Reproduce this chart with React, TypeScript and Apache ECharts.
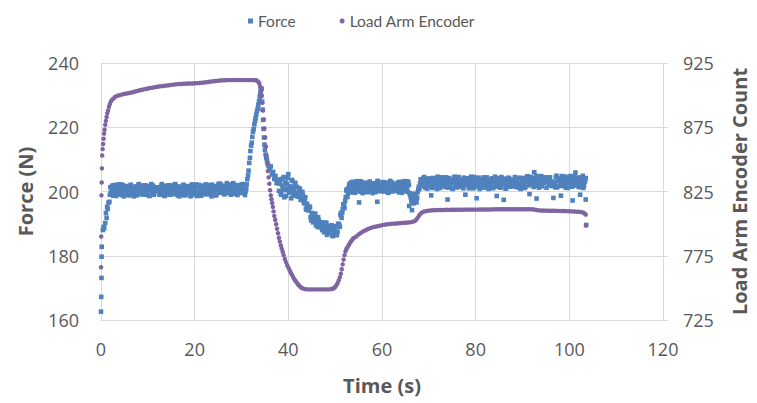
import React, { useEffect, useRef } from "react";
import * as echarts from "echarts";

// ---- Data ----
const seriesNames = ["Force", "Load Arm Encoder"];

const xTicks = [0, 20, 40, 60, 80, 100, 120];
const forceTicks = [160, 180, 200, 220, 240];
const encoderTicks = [725, 775, 825, 875, 925];

// Force (N) vs time (s) — main samples
const forceData: [number, number][] = [
  [0, 162.6], [0.05, 167.2], [0.1, 173.1], [0.12, 179.7], [0.15, 182.8], [0.4, 188.0], [0.55, 189.0], [0.7, 188.6],
  [0.9, 190.2], [1.05, 193.3], [1.2, 191.8], [1.3, 195.2], [1.45, 194.6], [1.6, 196.5], [1.8, 196.8], [1.9, 199.0],
  [2, 201.3], [2.25, 199.2], [2.5, 200.7], [2.75, 202.0], [3, 199.7], [3.25, 198.6], [3.5, 201.5], [3.75, 200.6],
  [4, 200.0], [4.25, 202.2], [4.5, 198.9], [4.75, 201.0], [5, 200.3], [5.25, 201.7], [5.5, 199.4], [5.75, 200.9],
  [6, 198.8], [6.25, 201.8], [6.5, 200.1], [6.75, 201.2], [7, 198.5], [7.25, 200.4], [7.5, 201.6], [7.75, 199.6],
  [8, 202.1], [8.25, 199.9], [8.5, 200.8], [8.75, 199.1], [9, 201.4], [9.25, 200.2], [9.5, 201.9], [9.75, 199.3],
  [10, 201.1], [10.25, 198.7], [10.5, 200.5], [10.75, 202.3], [11, 199.8], [11.25, 199.0], [11.5, 201.3], [11.75, 200.7],
  [12, 200.7], [12.25, 201.3], [12.5, 199.0], [12.75, 199.8], [13, 202.3], [13.25, 200.5], [13.5, 198.7], [13.75, 201.1],
  [14, 199.3], [14.25, 201.9], [14.5, 200.2], [14.75, 201.4], [15, 199.1], [15.25, 200.8], [15.5, 199.9], [15.75, 202.1],
  [16, 199.6], [16.25, 201.6], [16.5, 200.4], [16.75, 198.5], [17, 201.2], [17.25, 200.1], [17.5, 201.8], [17.75, 198.8],
  [18, 200.9], [18.25, 199.4], [18.5, 201.7], [18.75, 200.3], [19, 201.0], [19.25, 198.9], [19.5, 202.2], [19.75, 200.0],
  [20, 200.6], [20.25, 201.5], [20.5, 198.6], [20.75, 199.7], [21, 202.0], [21.25, 200.7], [21.5, 199.2], [21.75, 201.3],
  [22, 199.2], [22.25, 201.3], [22.5, 200.6], [22.75, 202.0], [23, 199.7], [23.25, 201.2], [23.5, 199.1], [23.75, 202.1],
  [24, 200.4], [24.25, 201.5], [24.5, 198.8], [24.75, 200.7], [25, 201.9], [25.25, 199.9], [25.5, 202.4], [25.75, 200.2],
  [26, 201.1], [26.25, 199.4], [26.5, 201.7], [26.75, 200.5], [27, 202.2], [27.25, 199.6], [27.5, 201.4], [27.75, 199.0],
  [28, 200.8], [28.25, 202.6], [28.5, 200.1], [28.75, 199.3], [29, 201.6], [29.25, 201.0], [29.5, 201.6], [29.75, 199.5],
  [30, 201.0], [30.25, 202.3], [30.5, 200.0], [30.75, 198.9],
  [31, 200.9], [31.1, 202.2], [31.25, 203.8], [31.4, 205.0], [31.5, 206.5], [31.65, 208.9], [31.8, 210.5], [31.9, 212.6],
  [32.05, 214.3], [32.2, 215.2], [32.3, 217.0], [32.45, 218.6], [32.6, 219.4], [32.75, 220.9], [32.9, 222.0], [33.0, 222.8],
  [33.15, 223.9], [33.3, 225.0], [33.45, 225.8], [33.6, 227.0], [33.75, 228.1], [33.9, 229.5], [34.0, 230.4], [34.1, 231.5],
  [34.2, 229.8], [34.3, 232.0], [34.4, 228.0], [34.5, 225.5], [34.6, 222.3], [34.7, 219.5], [34.8, 216.8], [34.9, 214.6],
  [35.0, 213.0], [35.15, 211.5], [35.3, 210.4], [35.45, 209.8], [35.6, 208.6], [35.75, 208.0], [36.0, 206.9], [36.25, 207.8],
  [36.5, 205.3], [36.75, 206.1], [37.0, 203.9], [37.25, 204.8], [37.5, 202.6], [37.75, 203.7],
  [38, 200.2], [38.25, 203.1], [38.5, 199.0], [38.75, 201.8], [39, 204.5], [39.25, 200.4], [39.5, 198.6], [39.75, 202.3],
  [40, 205.4], [40.25, 199.7], [40.5, 201.2], [40.75, 203.6], [41, 198.9], [41.25, 200.8], [41.5, 202.7], [41.75, 199.5],
  [42, 198.4], [42.25, 199.8], [42.5, 200.5], [42.75, 198.0], [43, 199.9], [43.25, 197.0], [43.5, 197.2], [43.75, 194.7],
  [44, 196.2], [44.25, 194.3], [44.5, 195.3], [44.75, 192.0], [45, 193.3], [45.25, 190.4], [45.5, 191.7], [45.75, 193.1],
  [46, 190.2], [46.25, 189.0], [46.5, 191.0], [46.75, 190.1], [47, 190.4], [47.25, 188.0], [47.5, 189.3], [47.75, 190.3],
  [48, 187.8], [48.25, 186.5], [48.5, 189.2], [48.75, 188.1], [49, 187.4], [49.25, 189.5], [49.5, 186.1], [49.75, 188.1],
  [50, 187.5], [50.25, 189.2], [50.5, 187.5], [50.75, 189.9], [51, 189.0], [51.25, 193.4], [51.5, 193.3], [51.75, 196.0],
  [52, 194.9], [52.25, 198.3], [52.5, 200.7], [52.75, 199.6],
  [53, 202.3], [53.25, 200.2], [53.5, 201.7], [53.75, 203.0], [54, 200.7], [54.25, 199.6], [54.5, 202.5], [54.75, 201.6],
  [55, 201.0], [55.25, 203.2], [55.5, 199.9], [55.75, 202.0], [56, 201.3], [56.25, 202.7], [56.5, 200.4], [56.75, 201.9],
  [57, 199.8], [57.25, 202.8], [57.5, 201.1], [57.75, 202.2], [58, 199.5], [58.25, 201.4], [58.5, 202.6], [58.75, 200.6],
  [59, 203.1], [59.25, 200.9], [59.5, 201.8], [59.75, 200.1], [60, 202.4], [60.25, 201.2], [60.5, 202.9], [60.75, 200.3],
  [61, 202.1], [61.25, 199.7], [61.5, 201.5], [61.75, 203.3], [62, 200.8], [62.25, 200.0], [62.5, 202.3], [62.75, 201.7],
  [63, 202.3], [63.25, 200.2], [63.5, 201.7], [63.75, 203.0], [64, 200.7], [64.25, 199.6], [64.5, 202.5], [64.75, 201.6],
  [65, 201.0], [65.25, 203.2], [65.5, 199.9], [65.75, 202.0], [55.1, 196.6], [59.0, 196.8],
  [66, 199.0], [66.25, 197.2], [66.5, 198.4], [66.75, 196.3], [67, 197.8], [67.25, 199.1], [67.5, 198.0], [67.75, 200.6],
  [66.4, 194.2], [65.8, 195.5],
  [68, 200.9], [68.25, 203.8], [68.5, 202.9], [68.75, 202.3], [69, 204.5], [69.25, 201.2], [69.5, 203.3], [69.75, 202.6],
  [70, 204.0], [70.25, 201.7], [70.5, 203.2], [70.75, 201.1], [71, 204.1], [71.25, 202.4], [71.5, 203.5], [71.75, 200.8],
  [72, 202.7], [72.25, 203.9], [72.5, 201.9], [72.75, 204.4], [73, 202.2], [73.25, 203.1], [73.5, 201.4], [73.75, 203.7],
  [74, 202.5], [74.25, 204.2], [74.5, 201.6], [74.75, 203.4], [75, 201.0], [75.25, 202.8], [75.5, 204.6], [75.75, 202.1],
  [76, 201.3], [76.25, 203.6], [76.5, 203.0], [76.75, 203.6], [77, 201.5], [77.25, 203.0], [77.5, 204.3], [77.75, 202.0],
  [78, 203.0], [78.25, 203.6], [78.5, 201.3], [78.75, 202.1], [79, 204.6], [79.25, 202.8], [79.5, 201.0], [79.75, 203.4],
  [80, 201.6], [80.25, 204.2], [80.5, 202.5], [80.75, 203.7], [81, 201.4], [81.25, 203.1], [81.5, 202.2], [81.75, 204.4],
  [82, 201.9], [82.25, 203.9], [82.5, 202.7], [82.75, 200.8], [83, 203.5], [83.25, 202.4], [83.5, 204.1], [83.75, 201.1],
  [84, 203.2], [84.25, 201.7], [84.5, 204.0], [84.75, 202.6], [85, 203.3], [85.25, 201.2], [85.5, 204.5], [85.75, 202.3],
  [86, 202.9], [86.25, 203.8], [86.5, 200.9], [86.75, 202.0], [87, 204.3], [87.25, 203.0], [87.5, 201.5], [87.75, 203.6],
  [88, 203.6], [88.25, 203.0], [88.5, 202.0], [88.75, 203.8], [89, 202.3], [89.25, 201.2], [89.5, 202.6], [89.75, 201.7],
  [90, 201.4], [90.25, 202.7], [90.5, 201.1], [90.75, 204.2], [91, 204.7], [91.25, 203.4], [91.5, 204.0], [91.75, 204.5],
  [92, 203.7], [92.25, 203.1], [92.5, 202.4], [92.75, 203.9], [93, 201.8], [93.25, 204.6], [93.5, 201.2], [93.75, 203.2],
  [94, 204.8], [94.25, 203.6], [94.5, 204.3], [94.75, 203.5], [95, 204.4], [95.25, 203.8], [95.5, 203.0], [95.75, 202.2],
  [96, 202.5], [96.25, 201.7], [96.5, 202.8], [96.75, 201.9], [97, 201.3], [97.25, 204.9], [97.5, 201.6], [97.75, 203.3],
  [98, 203.9], [98.25, 201.8], [98.5, 203.3], [98.75, 204.6], [99, 202.3], [99.25, 201.2], [99.5, 204.1], [99.75, 203.2],
  [100, 202.6], [100.25, 204.8], [100.5, 201.5], [100.75, 203.6], [101, 202.9], [101.25, 204.3], [101.5, 202.0], [101.75, 203.5],
  [102, 201.4], [102.25, 204.4], [102.5, 202.7], [102.75, 203.8], [103, 201.1], [103.25, 203.0], [103.5, 204.2],
  [70.5, 198.8], [74.0, 197.5], [77.8, 199.0], [80.2, 197.9], [84.5, 198.6], [86.0, 197.4], [91.5, 199.2], [93.0, 197.8],
  [96.6, 198.0], [98.2, 198.7], [100.7, 197.2], [102.3, 199.0], [103.5, 197.5], [103.6, 189.6], [92.5, 206.0], [101.3, 205.9],
];

// Force (N) vs time (s) — in-between samples
const forceDataB: [number, number][] = [
  [2.125, 199.8], [2.375, 201.8], [2.625, 198.7], [2.875, 200.6], [3.125, 201.4], [3.375, 199.5], [3.625, 202.2], [3.875, 199.1],
  [4.125, 200.9], [4.375, 200.3], [4.625, 202.0], [4.875, 198.5], [5.125, 201.2], [5.375, 200.0], [5.625, 201.6], [5.875, 198.9],
  [6.125, 200.4], [6.375, 202.1], [6.625, 199.3], [6.875, 201.0], [7.125, 199.6], [7.375, 201.5], [7.625, 198.8], [7.875, 200.8],
  [8.125, 202.3], [8.375, 199.2], [8.625, 200.7], [8.875, 199.7], [9.125, 201.9], [9.375, 199.0], [9.625, 201.1], [9.875, 200.1],
  [10.125, 201.7], [10.375, 198.6], [10.625, 201.3], [10.875, 199.9], [11.125, 201.8], [11.375, 199.4], [11.625, 200.5], [11.875, 200.2],
  [12.125, 200.2], [12.375, 200.5], [12.625, 199.4], [12.875, 201.8], [13.125, 199.9], [13.375, 201.3], [13.625, 198.6], [13.875, 201.7],
  [14.125, 200.1], [14.375, 201.1], [14.625, 199.0], [14.875, 201.9], [15.125, 199.7], [15.375, 200.7], [15.625, 199.2], [15.875, 202.3],
  [16.125, 200.8], [16.375, 198.8], [16.625, 201.5], [16.875, 199.6], [17.125, 201.0], [17.375, 199.3], [17.625, 202.1], [17.875, 200.4],
  [18.125, 198.9], [18.375, 201.6], [18.625, 200.0], [18.875, 201.2], [19.125, 198.5], [19.375, 202.0], [19.625, 200.3], [19.875, 200.9],
  [20.125, 199.1], [20.375, 202.2], [20.625, 199.5], [20.875, 201.4], [21.125, 200.6], [21.375, 198.7], [21.625, 201.8], [21.875, 199.8],
  [22.125, 199.5], [22.375, 202.2], [22.625, 199.1], [22.875, 200.9], [23.125, 200.3], [23.375, 202.0], [23.625, 198.5], [23.875, 201.2],
  [24.125, 200.0], [24.375, 201.6], [24.625, 198.9], [24.875, 200.4], [25.125, 202.4], [25.375, 199.6], [25.625, 201.3], [25.875, 199.9],
  [26.125, 201.8], [26.375, 199.1], [26.625, 201.1], [26.875, 202.6], [27.125, 199.5], [27.375, 201.0], [27.625, 200.0], [27.875, 202.2],
  [28.125, 199.3], [28.375, 201.4], [28.625, 200.4], [28.875, 202.0], [29.125, 198.9], [29.375, 201.6], [29.625, 200.2], [29.875, 202.1],
  [30.125, 199.7], [30.375, 200.8], [30.625, 200.5], [30.875, 200.1],
  [38.125, 202.4], [38.375, 199.3], [38.625, 203.9], [38.875, 200.6], [39.125, 198.2], [39.375, 202.9], [39.625, 200.9], [39.875, 204.2],
  [40.125, 199.8], [40.375, 201.6], [40.625, 197.9], [40.875, 203.3], [41.125, 200.2], [41.375, 202.0], [41.625, 198.7], [41.875, 201.4],
  [42.125, 199.5], [42.375, 201.0], [42.625, 197.4], [42.875, 198.7], [43.125, 198.9], [43.375, 196.3], [43.625, 198.2], [43.875, 194.3],
  [44.125, 195.4], [44.375, 194.1], [44.625, 195.1], [44.875, 191.0], [45.125, 193.2], [45.375, 191.5], [45.625, 192.6], [45.875, 189.5],
  [46.125, 190.6], [46.375, 192.0], [46.625, 188.9], [46.875, 190.3], [47.125, 188.6], [47.375, 190.2], [47.625, 187.3], [47.875, 189.0],
  [48.125, 190.3], [48.375, 187.0], [48.625, 188.3], [48.875, 187.2], [49.125, 189.3], [49.375, 186.3], [49.625, 188.3], [49.875, 187.3],
  [50.125, 189.1], [50.375, 186.4], [50.625, 189.9], [50.875, 189.5], [51.125, 192.7], [51.375, 191.8], [51.625, 194.5], [51.875, 195.8],
  [52.125, 197.0], [52.375, 200.3], [52.625, 198.3], [52.875, 201.1],
  [53.125, 200.8], [53.375, 202.8], [53.625, 199.7], [53.875, 201.6], [54.125, 202.4], [54.375, 200.5], [54.625, 203.2], [54.875, 200.1],
  [55.125, 201.9], [55.375, 201.3], [55.625, 203.0], [55.875, 199.5], [56.125, 202.2], [56.375, 201.0], [56.625, 202.6], [56.875, 199.9],
  [57.125, 201.4], [57.375, 203.1], [57.625, 200.3], [57.875, 202.0], [58.125, 200.6], [58.375, 202.5], [58.625, 199.8], [58.875, 201.8],
  [59.125, 203.3], [59.375, 200.2], [59.625, 201.7], [59.875, 200.7], [60.125, 202.9], [60.375, 200.0], [60.625, 202.1], [60.875, 201.1],
  [61.125, 202.7], [61.375, 199.6], [61.625, 202.3], [61.875, 200.9], [62.125, 202.8], [62.375, 200.4], [62.625, 201.5], [62.875, 201.2],
  [63.125, 200.8], [63.375, 202.8], [63.625, 199.7], [63.875, 201.6], [64.125, 202.4], [64.375, 200.5], [64.625, 203.2], [64.875, 200.1],
  [65.125, 201.9], [65.375, 201.3], [65.625, 203.0], [65.875, 199.5],
  [66.125, 198.2], [66.375, 196.8], [66.625, 199.3], [66.875, 197.5], [67.125, 198.9], [67.375, 196.6], [67.625, 199.8], [67.875, 201.5],
  [68.125, 202.5], [68.375, 202.8], [68.625, 201.7], [68.875, 204.1], [69.125, 202.2], [69.375, 203.6], [69.625, 200.9], [69.875, 204.0],
  [70.125, 202.4], [70.375, 203.4], [70.625, 201.3], [70.875, 204.2], [71.125, 202.0], [71.375, 203.0], [71.625, 201.5], [71.875, 204.6],
  [72.125, 203.1], [72.375, 201.1], [72.625, 203.8], [72.875, 201.9], [73.125, 203.3], [73.375, 201.6], [73.625, 204.4], [73.875, 202.7],
  [74.125, 201.2], [74.375, 203.9], [74.625, 202.3], [74.875, 203.5], [75.125, 200.8], [75.375, 204.3], [75.625, 202.6], [75.875, 203.2],
  [76.125, 201.4], [76.375, 204.5], [76.625, 201.8], [76.875, 203.7], [77.125, 202.9], [77.375, 201.0], [77.625, 204.1], [77.875, 202.1],
  [78.125, 202.1], [78.375, 204.1], [78.625, 201.0], [78.875, 202.9], [79.125, 203.7], [79.375, 201.8], [79.625, 204.5], [79.875, 201.4],
  [80.125, 203.2], [80.375, 202.6], [80.625, 204.3], [80.875, 200.8], [81.125, 203.5], [81.375, 202.3], [81.625, 203.9], [81.875, 201.2],
  [82.125, 202.7], [82.375, 204.4], [82.625, 201.6], [82.875, 203.3], [83.125, 201.9], [83.375, 203.8], [83.625, 201.1], [83.875, 203.1],
  [84.125, 204.6], [84.375, 201.5], [84.625, 203.0], [84.875, 202.0], [85.125, 204.2], [85.375, 201.3], [85.625, 203.4], [85.875, 202.4],
  [86.125, 204.0], [86.375, 200.9], [86.625, 203.6], [86.875, 202.2], [87.125, 204.1], [87.375, 201.7], [87.625, 202.8], [87.875, 202.5],
  [88.125, 201.8], [88.375, 204.5], [88.625, 201.4], [88.875, 203.2], [89.125, 202.6], [89.375, 204.3], [89.625, 200.8], [89.875, 203.5],
  [90.125, 202.6], [90.375, 204.2], [90.625, 201.5], [90.875, 203.0], [91.125, 204.7], [91.375, 201.9], [91.625, 203.6], [91.875, 202.2],
  [92.125, 204.1], [92.375, 201.4], [92.625, 203.4], [92.875, 204.9], [93.125, 201.8], [93.375, 203.3], [93.625, 202.3], [93.875, 204.5],
  [94.125, 201.6], [94.375, 203.7], [94.625, 202.7], [94.875, 204.3], [95.125, 201.2], [95.375, 203.9], [95.625, 202.5], [95.875, 204.4],
  [96.125, 202.0], [96.375, 203.1], [96.625, 202.8],
  [96.875, 202.4], [97.125, 204.4], [97.375, 201.3], [97.625, 203.2], [97.875, 204.0], [98.125, 202.1], [98.375, 204.8], [98.625, 201.7],
  [98.875, 203.5], [99.125, 202.9], [99.375, 204.6], [99.625, 201.1], [99.875, 203.8], [100.125, 202.6], [100.375, 204.2], [100.625, 201.5],
  [100.875, 203.0], [101.125, 204.7], [101.375, 201.9], [101.625, 203.6], [101.875, 202.2], [102.125, 204.1], [102.375, 201.4], [102.625, 203.4],
  [102.875, 204.9], [103.125, 201.8], [103.375, 203.3],
];

// Load arm encoder count vs time (s)
const encoderData: [number, number][] = [
  [0.0, 766], [0.05, 790], [0.1, 822], [0.15, 832], [0.2, 843], [0.25, 853], [0.35, 858], [0.45, 862],
  [0.55, 866], [0.65, 870], [0.75, 873], [0.9, 877], [1.05, 880], [1.2, 883], [1.35, 886], [1.5, 888],
  [1.7, 891], [1.9, 893], [2.1, 895], [2.4, 896.5], [2.7, 897.5], [3.0, 898.5], [3.5, 899.5], [4.0, 900],
  [4.5, 900.5], [5.0, 901], [5.5, 901.3], [6, 901.6], [6.5, 902], [7, 902.4], [7.5, 903], [8, 903.5],
  [8.5, 904], [9, 904.4], [9.5, 904.8], [10, 905.2], [10.5, 905.5], [11, 905.8], [11.5, 906.2], [12, 906.5],
  [12.5, 906.8], [13, 907], [13.5, 907.2], [14, 907.5], [14.5, 907.7], [15, 908], [15.5, 908.2], [16, 908.4],
  [16.5, 908.6], [17, 908.7], [17.5, 908.8], [18, 908.9], [18.5, 909], [19, 909], [19.5, 909.1], [20, 909.2],
  [20.5, 909.3], [21, 909.4], [21.5, 909.6], [22, 909.8], [22.5, 910], [23, 910.3], [23.5, 910.6], [24, 910.8],
  [24.5, 911], [25, 911.2], [25.5, 911.4], [26, 911.5], [26.5, 911.6], [27, 911.7], [27.5, 911.7], [28, 911.7],
  [28.5, 911.7], [29, 911.7], [29.5, 911.7], [30, 911.7], [30.5, 911.7], [31, 911.7], [31.5, 911.7], [32, 911.7],
  [32.5, 911.7], [33, 911.6], [33.3, 911.3], [33.6, 910.2], [33.8, 909], [34, 906.5], [34.15, 903], [34.3, 899.5],
  [34.45, 894], [34.6, 888], [34.75, 881], [34.9, 874], [35.05, 867], [35.2, 860], [35.35, 853], [35.5, 847],
  [35.65, 841], [35.8, 836], [35.95, 831], [36.1, 826], [36.25, 822], [36.4, 819], [36.55, 816], [36.7, 813],
  [36.85, 809.5], [37, 806], [37.2, 803], [37.4, 799.5], [37.6, 796], [37.8, 792.5], [38, 789], [38.2, 786],
  [38.4, 783], [38.6, 780.5], [38.8, 778], [39, 775.5], [39.25, 772.5], [39.5, 770], [39.75, 767.7], [40, 765.8],
  [40.25, 764], [40.5, 762], [40.75, 760.3], [41, 758.6], [41.25, 757], [41.5, 755.6], [41.75, 754.3], [42, 753],
  [42.25, 752], [42.5, 751], [42.75, 750.3], [43, 749.7], [43.5, 749.1], [44, 748.8], [44.5, 748.8], [45, 748.8],
  [45.5, 748.8], [46, 748.8], [46.5, 748.8], [47, 748.8], [47.5, 748.8], [48, 748.8], [48.5, 748.8], [49, 748.9],
  [49.5, 749.3], [49.75, 749.9], [50, 750.7], [50.25, 752], [50.5, 753.6], [50.75, 755.7], [51, 758.2], [51.2, 761],
  [51.4, 764.5], [51.6, 768.3], [51.8, 772], [52, 775.5], [52.2, 778.5], [52.4, 780.3], [52.6, 781.5], [52.8, 782.7],
  [53, 784], [53.25, 785.5], [53.5, 786.8], [53.75, 788], [54, 788.8], [54.5, 790], [55, 791.5], [55.5, 792.8],
  [56, 794], [56.5, 794.8], [57, 795.8], [57.5, 796.5], [58, 797.1], [58.5, 797.6], [59, 798], [59.5, 798.4],
  [60, 798.8], [60.5, 799.1], [61, 799.4], [61.5, 799.6], [62, 799.8], [62.5, 800], [63, 800.1], [63.5, 800.3],
  [64, 800.4], [64.5, 800.6], [65, 800.7], [65.5, 800.9], [66, 801], [66.5, 801.4], [67, 802], [67.3, 803],
  [67.6, 804.5], [67.9, 806.2], [68.2, 807.6], [68.5, 808.6], [69, 809.4], [69.5, 809.8], [70, 810.1], [70.5, 810.3],
  [71, 810.4], [71.5, 810.5], [72, 810.5], [72.5, 810.6], [73, 810.6], [73.5, 810.7], [74, 810.7], [74.5, 810.7],
  [75, 810.8], [75.5, 810.8], [76, 810.8], [76.5, 810.8], [77, 810.8], [77.5, 810.9], [78, 810.9], [78.5, 810.9],
  [79, 810.9], [79.5, 810.9], [80, 810.9], [80.5, 810.9], [81, 811], [81.5, 811], [82, 811], [82.5, 811],
  [83, 811], [83.5, 811.1], [84, 811.1], [84.5, 811.2], [85, 811.2], [85.5, 811.2], [86, 811.2], [86.5, 811.2],
  [87, 811.2], [87.5, 811.2], [88, 811.2], [88.5, 811.2], [89, 811.2], [89.5, 811.2], [90, 811.2], [90.5, 811.2],
  [91, 811.2], [91.5, 811.2], [92, 811.1], [92.5, 811], [93, 810.6], [93.5, 810.3], [94, 810.2], [94.5, 810.1],
  [95, 810.1], [95.5, 810], [96, 810], [96.5, 810], [97, 810], [97.5, 809.9], [98, 809.9], [98.5, 809.8],
  [99, 809.8], [99.5, 809.7], [100, 809.6], [100.5, 809.5], [101, 809.4], [101.5, 809.3], [102, 809.2], [102.5, 809],
  [103, 808.5], [103.3, 807.8], [103.5, 807], [103.55, 798.5],
];

const TEXT = "#595959";
const GRID = "#D9D9D9";
const FORCE_COLOR = "#4F81BD";
const ENC_COLOR = "#8064A2";

export default function App() {
  const ref = useRef<HTMLDivElement>(null);

  useEffect(() => {
    if (!ref.current) return;
    const chart = echarts.init(ref.current, undefined, { renderer: "svg" });
    const labelFont = { color: TEXT, fontSize: 18, fontFamily: "Open Sans" };
    const nameFont = { color: TEXT, fontSize: 20, fontWeight: "bold" as const, fontFamily: "Open Sans" };
    chart.setOption({
      animation: false,
      backgroundColor: "#ffffff",
      legend: {
        left: 243,
        top: 8,
        itemGap: 44,
        itemWidth: 5,
        itemHeight: 5,
        textStyle: { color: TEXT, fontSize: 15.5, fontFamily: "Lato" },
        data: [
          { name: seriesNames[0], icon: "rect" },
          { name: seriesNames[1], icon: "circle" },
        ],
      },
      grid: { left: 101, right: 90, top: 63, bottom: 83, containLabel: false },
      xAxis: {
        type: "value",
        min: xTicks[0],
        max: xTicks[xTicks.length - 1],
        interval: xTicks[1] - xTicks[0],
        axisLine: { show: true, onZero: false, lineStyle: { color: GRID, width: 1 } },
        axisTick: { show: false },
        splitLine: { show: true, lineStyle: { color: GRID, width: 1 } },
        axisLabel: { ...labelFont, margin: 20 },
        name: "Time (s)",
        nameLocation: "middle",
        nameGap: 55,
        nameTextStyle: nameFont,
      },
      yAxis: [
        {
          type: "value",
          position: "left",
          min: forceTicks[0],
          max: forceTicks[forceTicks.length - 1],
          interval: forceTicks[1] - forceTicks[0],
          axisLine: { show: true, lineStyle: { color: GRID, width: 1 } },
          axisTick: { show: false },
          splitLine: { show: true, lineStyle: { color: GRID, width: 1 } },
          axisLabel: { ...labelFont, margin: 22 },
          name: "Force (N)",
          nameLocation: "middle",
          nameRotate: 90,
          nameGap: 66,
          nameTextStyle: nameFont,
        },
        {
          type: "value",
          position: "right",
          min: encoderTicks[0],
          max: encoderTicks[encoderTicks.length - 1],
          axisLine: { show: true, lineStyle: { color: GRID, width: 1 } },
          axisTick: { show: true, length: 5, customValues: encoderTicks, lineStyle: { color: GRID } },
          splitLine: { show: false },
          axisLabel: { ...labelFont, margin: 20, customValues: encoderTicks },
          name: "Load Arm Encoder Count",
          nameLocation: "middle",
          nameRotate: 90,
          nameGap: 66,
          nameTextStyle: nameFont,
        },
      ],
      series: [
        {
          name: seriesNames[0],
          type: "scatter",
          yAxisIndex: 0,
          data: forceData.concat(forceDataB),
          symbol: "rect",
          symbolSize: 4.6,
          itemStyle: { color: FORCE_COLOR, opacity: 1 },
          silent: true,
        },
        {
          name: seriesNames[1],
          type: "scatter",
          yAxisIndex: 1,
          data: encoderData,
          symbol: "circle",
          symbolSize: 4.5,
          itemStyle: { color: ENC_COLOR, opacity: 1 },
          silent: true,
        },
      ],
    });
    return () => chart.dispose();
  }, []);

  return (
    <div
      ref={ref}
      style={{ position: "fixed", left: 0, top: 0, width: 757, height: 403, background: "#fff" }}
    />
  );
}
